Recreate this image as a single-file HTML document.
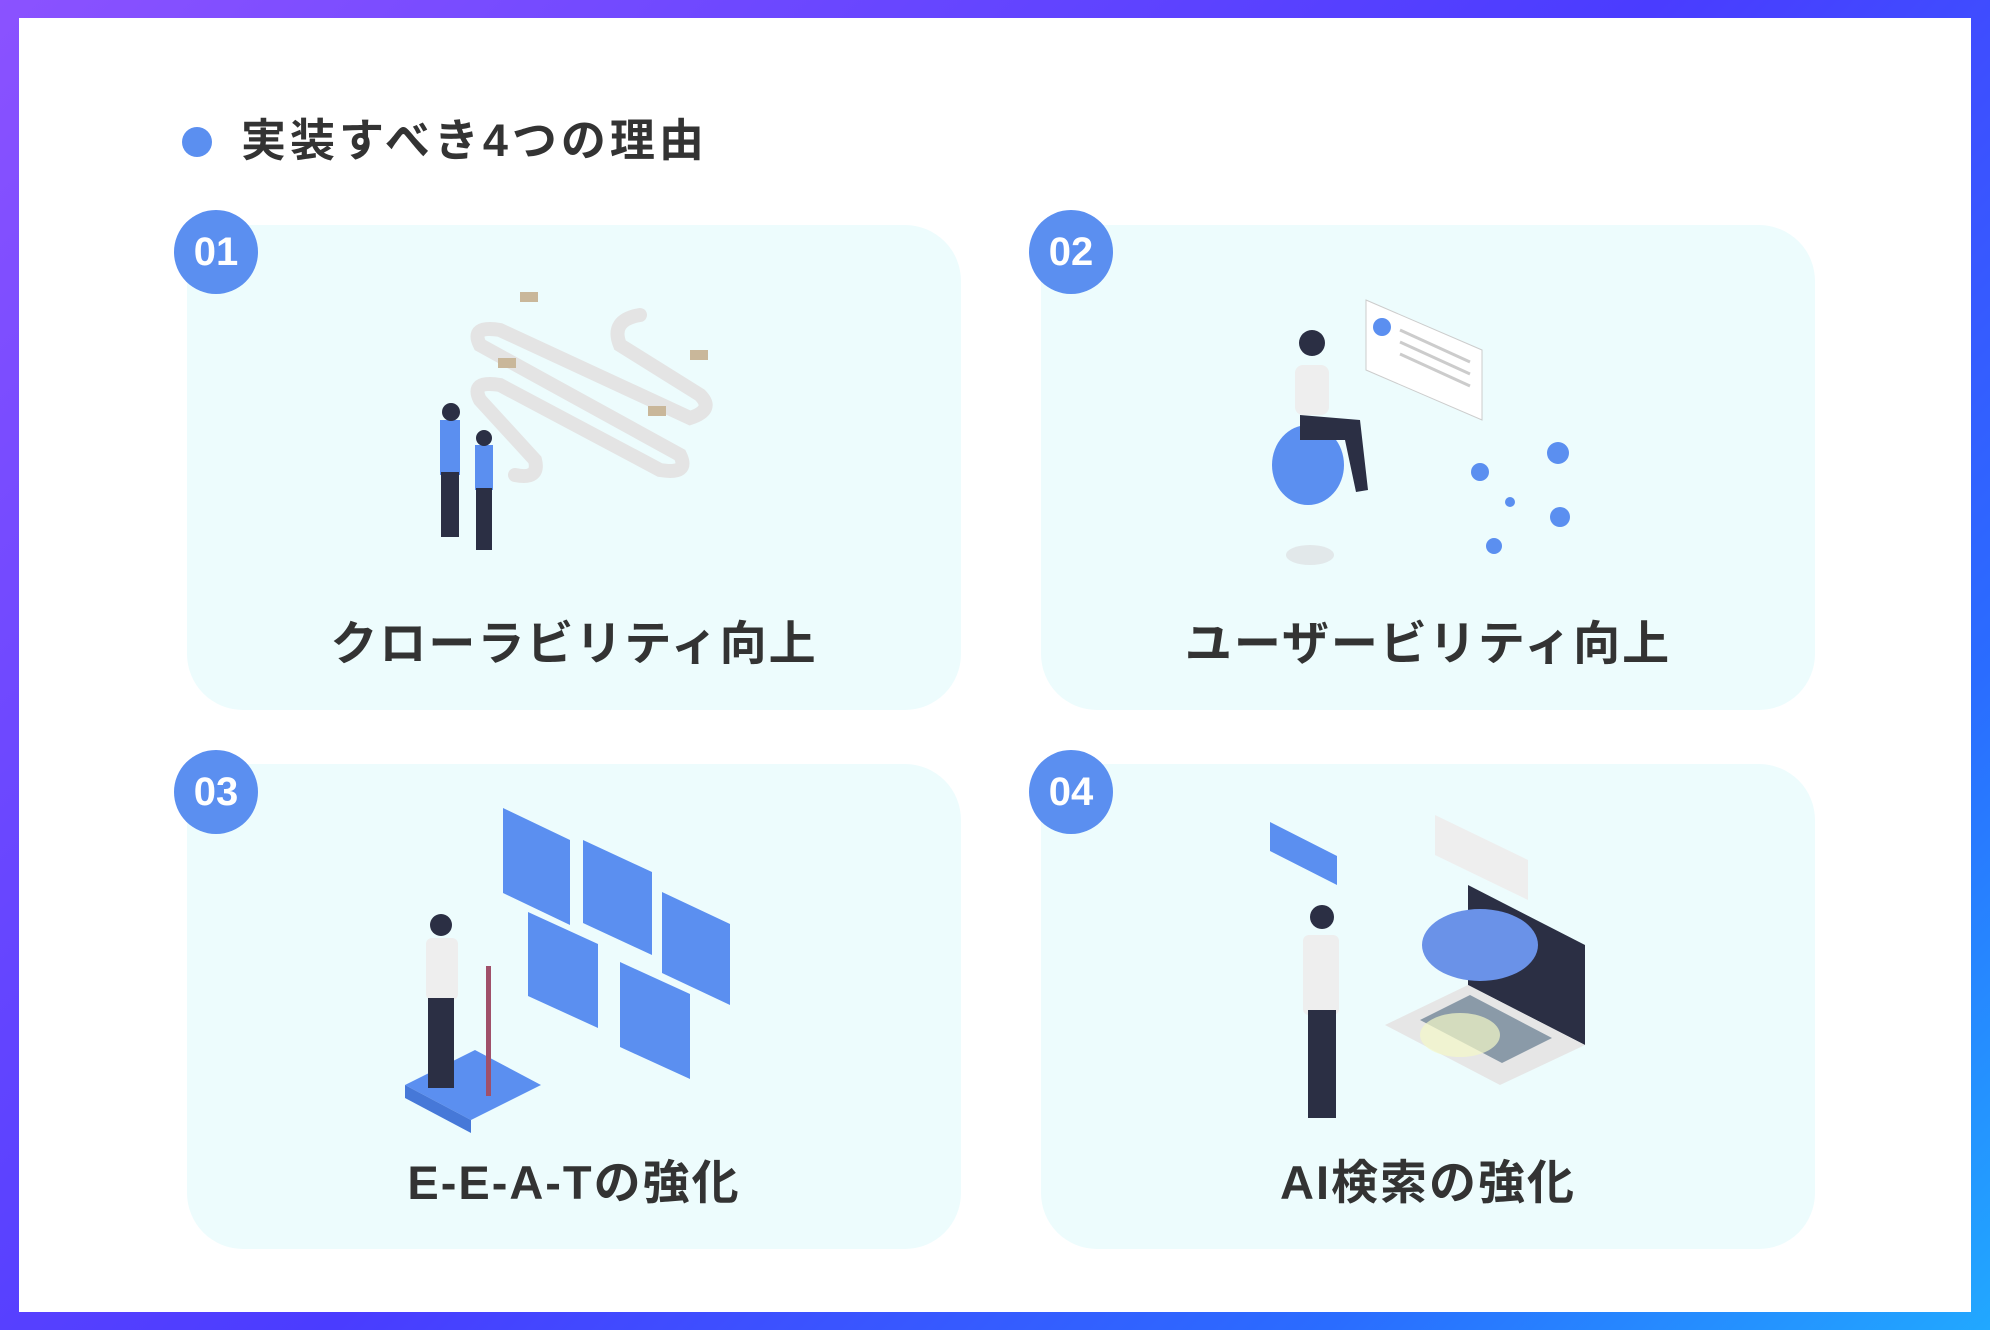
<!DOCTYPE html>
<html><head><meta charset="utf-8"><style>
*{margin:0;padding:0;box-sizing:border-box}
body{width:1990px;height:1330px;overflow:hidden;background:linear-gradient(135deg,#8b52ff 0%,#4a3cff 50%,#2a6cff 80%,#21a8ff 100%);font-family:"Liberation Sans","Noto Sans CJK JP",sans-serif;position:relative}
.inner{position:absolute;left:19px;top:18px;width:1952px;height:1294px;background:#fff}
.title{position:absolute;left:241px;top:112px;font-size:45px;font-weight:bold;color:#333;line-height:58px;letter-spacing:4px}
.dot{position:absolute;left:182px;top:127px;width:30px;height:30px;border-radius:50%;background:#5b8ff0}
.card{position:absolute;width:774px;height:485px;background:#edfcfd;border-radius:56px}
.badge{position:absolute;width:84px;height:84px;border-radius:50%;background:#5b8ff0;color:#fff;font-weight:bold;font-size:40px;text-align:center;line-height:84px}
.label{position:absolute;width:774px;text-align:center;font-size:47px;font-weight:bold;color:#333;letter-spacing:2px}
svg{position:absolute;left:0;top:0}
</style></head><body>
<div class="inner"></div>
<div class="dot"></div>
<div class="title">実装すべき4つの理由</div>
<div class="card" style="left:187px;top:225px"></div>
<div class="card" style="left:1041px;top:225px"></div>
<div class="card" style="left:187px;top:764px"></div>
<div class="card" style="left:1041px;top:764px"></div>
<svg width="1990" height="1330">
<g fill="none" stroke="#e4e4e4" stroke-width="14" stroke-linecap="round">
<path d="M640 315 Q610 320 620 345 L700 395 Q715 410 690 418 L500 330 Q470 325 480 345 L680 455 Q690 475 660 470 L500 385 Q470 380 480 400 L535 460 Q540 480 515 475"/>
</g>
<g fill="#c9b79a"><rect x="520" y="292" width="18" height="10"/><rect x="690" y="350" width="18" height="10"/><rect x="498" y="358" width="18" height="10"/><rect x="648" y="406" width="18" height="10"/></g>
<g><rect x="440" y="420" width="20" height="55" fill="#5b8ff0"/><rect x="441" y="472" width="18" height="65" fill="#2b2f44"/><circle cx="451" cy="412" r="9" fill="#2b2f44"/>
<rect x="475" y="445" width="18" height="45" fill="#5b8ff0"/><rect x="476" y="488" width="16" height="62" fill="#2b2f44"/><circle cx="484" cy="438" r="8" fill="#2b2f44"/></g>
<polygon points="1366,300 1482,350 1482,420 1366,370" fill="#fff" stroke="#ccc"/>
<g stroke="#ccc" stroke-width="3"><line x1="1400" y1="330" x2="1470" y2="362"/><line x1="1400" y1="342" x2="1470" y2="374"/><line x1="1400" y1="354" x2="1470" y2="386"/></g>
<circle cx="1382" cy="327" r="9" fill="#5b8ff0"/>
<ellipse cx="1308" cy="465" rx="36" ry="40" fill="#5b8ff0"/>
<rect x="1295" y="365" width="34" height="50" rx="8" fill="#eee"/><circle cx="1312" cy="343" r="13" fill="#2b2f44"/>
<path d="M1300 415 L1360 420 L1368 490 L1356 492 L1345 440 L1300 440Z" fill="#2b2f44"/>
<ellipse cx="1310" cy="555" rx="24" ry="10" fill="#e2e8ea"/>
<g fill="#5b8ff0"><circle cx="1480" cy="472" r="9"/><circle cx="1558" cy="453" r="11"/><circle cx="1510" cy="502" r="5"/><circle cx="1560" cy="517" r="10"/><circle cx="1494" cy="546" r="8"/></g>
<g fill="#5b8ff0"><polygon points="503,808 570,840 570,925 503,893"/><polygon points="583,840 652,872 652,955 583,923"/><polygon points="662,892 730,924 730,1005 662,973"/><polygon points="528,912 598,944 598,1028 528,996"/><polygon points="620,962 690,994 690,1079 620,1047"/></g>
<polygon points="405,1085 475,1050 541,1085 471,1120" fill="#5b8ff0"/>
<polygon points="405,1085 471,1120 471,1133 405,1098" fill="#4678d8"/>
<rect x="426" y="938" width="32" height="62" rx="6" fill="#eee"/><circle cx="441" cy="925" r="11" fill="#2b2f44"/>
<rect x="428" y="998" width="26" height="90" fill="#2b2f44"/><rect x="486" y="966" width="5" height="130" fill="#a0506a"/>
<polygon points="1270,822 1337,856 1337,885 1270,851" fill="#5b8ff0"/>
<polygon points="1435,815 1528,860 1528,900 1435,855" fill="#eee"/>
<polygon points="1468,885 1585,945 1585,1045 1468,985" fill="#2b2f44"/>
<polygon points="1385,1025 1468,985 1585,1045 1500,1085" fill="#e6e6e6"/>
<polygon points="1420,1020 1470,995 1552,1038 1502,1063" fill="#8a9aa8"/>
<ellipse cx="1480" cy="945" rx="58" ry="36" fill="#6a92e8"/>
<ellipse cx="1460" cy="1035" rx="40" ry="22" fill="#f4f8c8" opacity=".7"/>
<rect x="1303" y="935" width="36" height="80" rx="6" fill="#eee"/><circle cx="1322" cy="917" r="12" fill="#2b2f44"/>
<rect x="1308" y="1010" width="28" height="108" fill="#2b2f44"/>
</svg>
<div class="badge" style="left:174px;top:210px">01</div>
<div class="badge" style="left:1029px;top:210px">02</div>
<div class="badge" style="left:174px;top:750px">03</div>
<div class="badge" style="left:1029px;top:750px">04</div>
<div class="label" style="left:187px;top:605px">クローラビリティ向上</div>
<div class="label" style="left:1041px;top:605px">ユーザービリティ向上</div>
<div class="label" style="left:187px;top:1144px">E-E-A-Tの強化</div>
<div class="label" style="left:1041px;top:1144px">AI検索の強化</div>
</body></html>
